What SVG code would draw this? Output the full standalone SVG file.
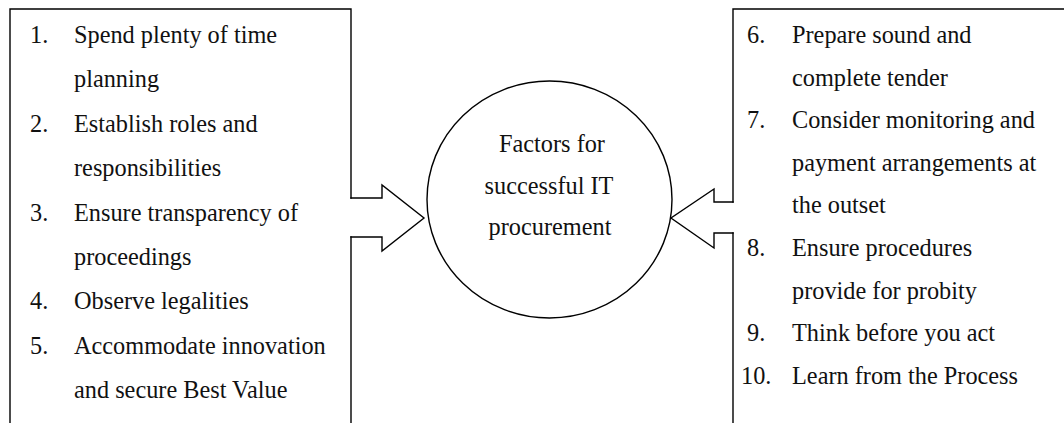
<svg xmlns="http://www.w3.org/2000/svg" width="1064" height="423" viewBox="0 0 1064 423">
<style>
.ln{fill:none;stroke:#000;stroke-width:1.4;stroke-linejoin:miter;stroke-linecap:square}
.t{font-family:"Liberation Serif","Times New Roman",serif;font-size:24.3px;fill:#111}
.c{text-anchor:middle}
</style>
<rect width="1064" height="423" fill="#fff"/>
<g id="left-list">
<path class="ln" d="M351,198 V9 H10 V430 M351,237 V430"/>
<text class="t" x="30" y="43">1.</text><text class="t" x="74" y="43">Spend plenty of time</text>
<text class="t" x="74" y="87.4">planning</text>
<text class="t" x="30" y="131.8">2.</text><text class="t" x="74" y="131.8">Establish roles and</text>
<text class="t" x="74" y="176.2">responsibilities</text>
<text class="t" x="30" y="220.6">3.</text><text class="t" x="74" y="220.6">Ensure transparency of</text>
<text class="t" x="74" y="265">proceedings</text>
<text class="t" x="30" y="309.4">4.</text><text class="t" x="74" y="309.4">Observe legalities</text>
<text class="t" x="30" y="353.8">5.</text><text class="t" x="74" y="353.8">Accommodate innovation</text>
<text class="t" x="74" y="398.2">and secure Best Value</text>
</g>
<g id="right-list">
<path class="ln" d="M733,202 V9 H1070 M733,233 V430"/>
<text class="t" x="747" y="43">6.</text><text class="t" x="792" y="43">Prepare sound and</text>
<text class="t" x="792" y="85.6">complete tender</text>
<text class="t" x="747" y="128.2">7.</text><text class="t" x="792" y="128.2">Consider monitoring and</text>
<text class="t" x="792" y="170.8">payment arrangements at</text>
<text class="t" x="792" y="213.4">the outset</text>
<text class="t" x="747" y="256">8.</text><text class="t" x="792" y="256">Ensure procedures</text>
<text class="t" x="792" y="298.6">provide for probity</text>
<text class="t" x="747" y="341.2">9.</text><text class="t" x="792" y="341.2">Think before you act</text>
<text class="t" x="741" y="383.8">10.</text><text class="t" x="792" y="383.8">Learn from the Process</text>
</g>
<g id="center-factors">
<ellipse class="ln" cx="549.5" cy="199.5" rx="122.5" ry="118.5"/>
<text class="t c" x="552" y="152">Factors for</text>
<text class="t c" x="549" y="193.5">successful IT</text>
<text class="t c" x="550" y="235">procurement</text>
</g>
<g id="connectors">
<path class="ln" d="M351,198 H382 V185 L424,218 L382,251 V237 H351"/>
<path class="ln" d="M733,202 H714 V189 L671,218 L714,248 V233 H733"/>
</g>
</svg>
